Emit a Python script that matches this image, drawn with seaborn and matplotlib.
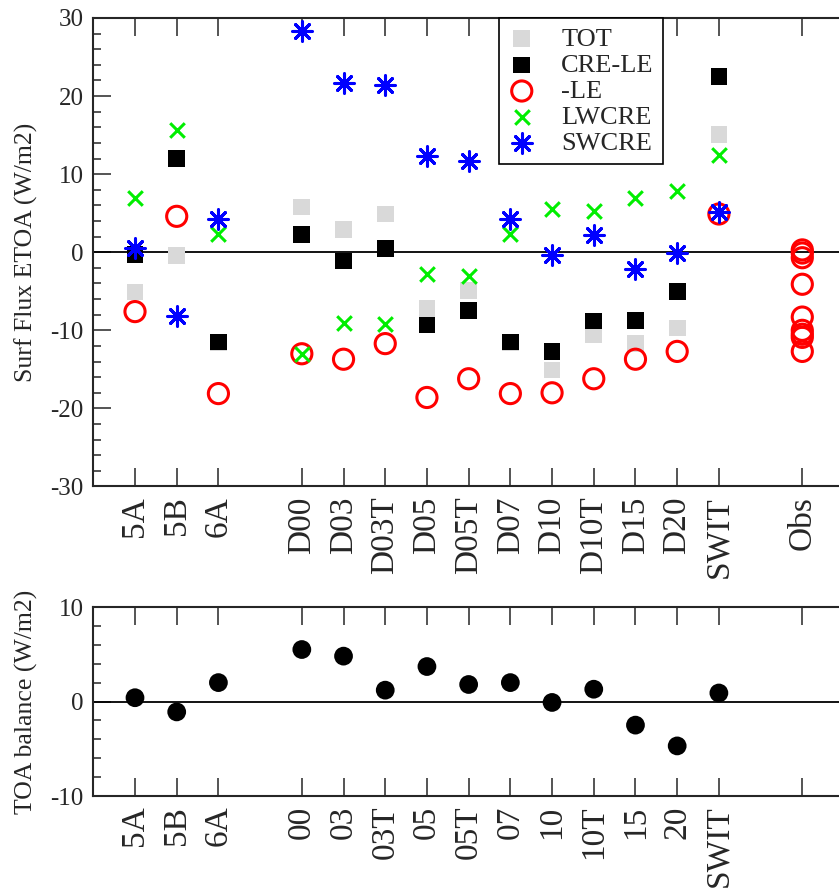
import matplotlib
matplotlib.use("Agg")
import matplotlib.pyplot as plt
from matplotlib.ticker import MultipleLocator
import seaborn as sns

# experiment names, in the order they appear along the x axis
runs = ["5A", "5B", "6A", "D00", "D03", "D03T", "D05", "D05T", "D07",
        "D10", "D10T", "D15", "D20", "SWIT"]
toa_labels = ["5A", "5B", "6A", "00", "03", "03T", "05", "05T", "07",
              "10", "10T", "15", "20", "SWIT"]

# surface flux components (W/m2)
tot    = [-5.1, -0.4, -11.6, 5.8, 2.9, 4.9, -7.2, -4.9, -11.6, -15.1, -10.6, -11.7, -9.7, 15.1]
cre_le = [-0.3, 12.0, -11.5, 2.3, -1.1, 0.5, -9.3, -7.5, -11.5, -12.7, -8.8, -8.7, -5.0, 22.5]
neg_le = [-7.6, 4.6, -18.1, -13.0, -13.7, -11.7, -18.6, -16.2, -18.1, -18.0, -16.2, -13.7, -12.7, 4.9]
lwcre  = [7.0, 15.7, 2.3, -13.0, -9.0, -9.2, -2.8, -3.1, 2.3, 5.5, 5.3, 7.0, 7.8, 12.4]
swcre  = [0.5, -8.2, 4.2, 28.3, 21.7, 21.4, 12.3, 11.7, 4.2, -0.3, 2.2, -2.1, -0.1, 5.1]
obs_le = [0.3, -0.1, -0.7, -4.1, -8.3, -10.0, -10.5, -10.9, -12.7]

# TOA balance (W/m2)
toa = [0.4, -1.1, 2.0, 5.5, 4.8, 1.2, 3.7, 1.8, 2.0, -0.1, 1.3, -2.5, -4.7, 0.9]

# slot layout along x: None = empty gap
slots = ["5A", "5B", "6A", None, "D00", "D03", "D03T", "D05", "D05T", "D07",
         "D10", "D10T", "D15", "D20", "SWIT", None, "Obs"]
xpos = {name: i + 1 for i, name in enumerate(slots) if name is not None}
x_runs = [xpos[r] for r in runs]
x_obs = [xpos["Obs"]] * len(obs_le)

sns.set_style("ticks")
plt.rcParams["font.family"] = ["Liberation Serif", "DejaVu Serif"]
plt.rcParams["axes.unicode_minus"] = False

W, H = 839, 888
fig = plt.figure(figsize=(W / 100, H / 100), dpi=100)
x0, x1 = 93.3, 844.0
ax1 = fig.add_axes([x0 / W, 1 - 486.5 / H, (x1 - x0) / W, (486.5 - 18) / H])
ax2 = fig.add_axes([x0 / W, 1 - 796 / H, (x1 - x0) / W, (796 - 607) / H])

# --- top panel ---
ax1.axhline(0, color="black", lw=1.3, zorder=1)
sns.scatterplot(x=x_runs, y=tot, ax=ax1, marker="s", s=12 ** 2, color="#d9d9d9",
                edgecolor="none", label="TOT", zorder=3)
sns.scatterplot(x=x_runs, y=cre_le, ax=ax1, marker="s", s=12 ** 2, color="black",
                edgecolor="none", label="CRE-LE", zorder=4)
sns.scatterplot(x=x_runs + x_obs, y=neg_le + obs_le, ax=ax1, marker="o", s=14.5 ** 2,
                facecolor="none", edgecolor="#ff0000", linewidth=2.2, label="-LE", zorder=5)
sns.scatterplot(x=x_runs, y=lwcre, ax=ax1, marker="x", s=10.5 ** 2, color="#00ee00",
                linewidth=2.2, label="LWCRE", zorder=6)
sns.scatterplot(x=x_runs, y=swcre, ax=ax1, marker=(8, 2, 0), s=14 ** 2, color="#0000ff",
                linewidth=2.2, label="SWCRE", zorder=7)

ax1.set_xlim(0, 18)
ax1.set_ylim(-30, 30)
ax1.set_xticks([xpos[r] for r in runs] + [xpos["Obs"]])
ax1.set_xticklabels(runs + ["Obs"])
ax1.set_ylabel("Surf Flux ETOA (W/m2)", fontsize=18.5)
ax1.yaxis.set_label_coords(-0.074, 0.5)

leg = ax1.legend(loc="upper right", bbox_to_anchor=(0.759, 1.0), borderaxespad=0,
                 fancybox=False, edgecolor="black", framealpha=1, fontsize=19,
                 labelspacing=0.1, handletextpad=1.0, handlelength=1.0, borderpad=0.35)
leg.get_frame().set_linewidth(1.2)

# --- bottom panel ---
ax2.axhline(0, color="black", lw=1.3, zorder=1)
sns.scatterplot(x=x_runs, y=toa, ax=ax2, marker="o", s=13.5 ** 2, color="black",
                edgecolor="none", zorder=3)
ax2.set_xlim(0, 18)
ax2.set_ylim(-10, 10)
ax2.set_xticks(x_runs + [xpos["Obs"]])
ax2.set_xticklabels(toa_labels + [""])
ax2.set_ylabel("TOA balance (W/m2)", fontsize=18.5)
ax2.yaxis.set_label_coords(-0.074, 0.5)

for ax in (ax1, ax2):
    ax.yaxis.set_major_locator(MultipleLocator(10))
    ax.yaxis.set_minor_locator(MultipleLocator(2))
    ax.tick_params(axis="y", which="major", direction="in", length=13, width=1.1,
                   labelsize=18, pad=7, right=False)
    ax.tick_params(axis="y", which="minor", direction="in", length=6, width=1.1, right=False)
    ax.tick_params(axis="x", which="major", direction="in", length=13, width=1.1,
                   top=True, bottom=True, labelsize=24, pad=7, labelrotation=90)
    ax.tick_params(axis="x", which="minor", bottom=False, top=False)
    for sp in ax.spines.values():
        sp.set_linewidth(1.5)
        sp.set_visible(True)
    ax.spines["right"].set_visible(False)

fig.savefig("out.png", dpi=100)
